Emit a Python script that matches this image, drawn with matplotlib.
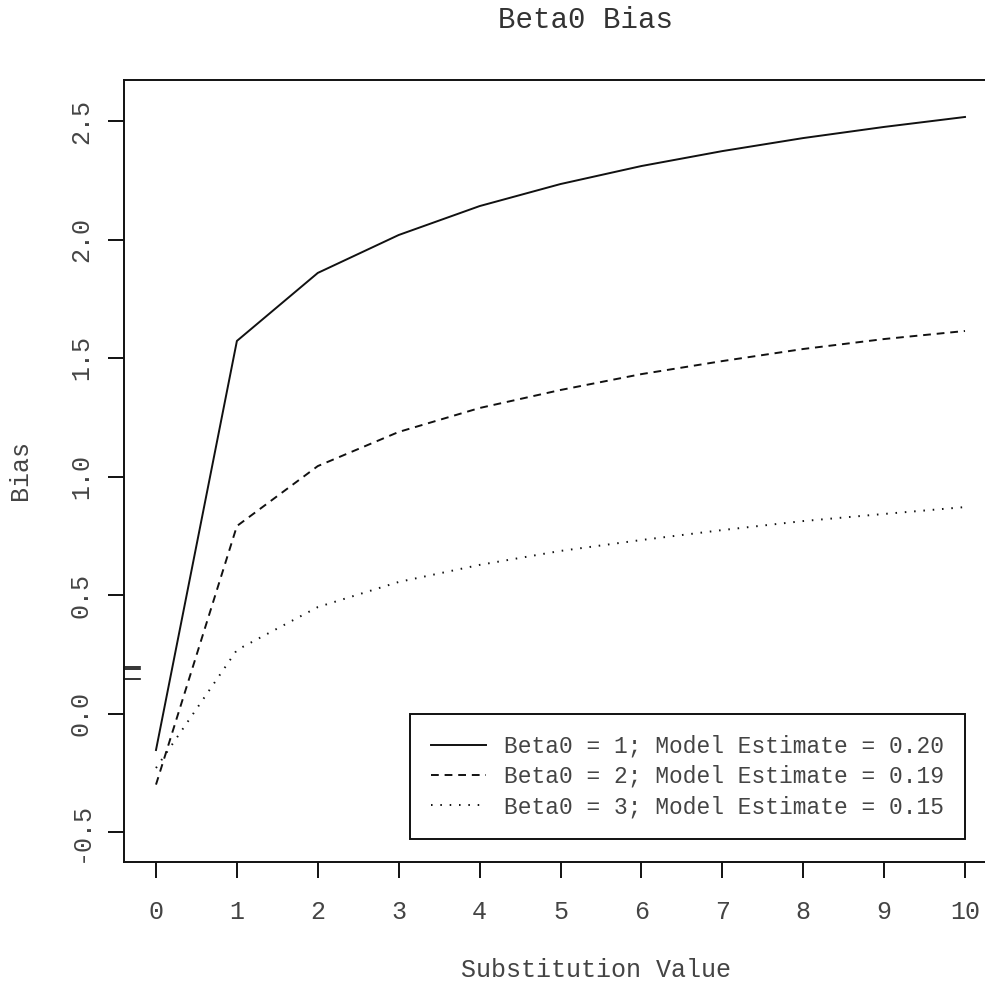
import numpy as np
import matplotlib
matplotlib.use("Agg")
import matplotlib.pyplot as plt
from matplotlib.ticker import FixedLocator
import matplotlib.transforms as mtransforms

# substitution values and bias per beta0
subst = [0, 1, 2, 3, 4, 5, 6, 7, 8, 9, 10]
bias_b1 = [-0.154, 1.572, 1.859, 2.019, 2.141, 2.234, 2.310, 2.373, 2.428, 2.475, 2.517]
bias_b2 = [-0.300, 0.791, 1.044, 1.188, 1.289, 1.365, 1.432, 1.487, 1.538, 1.580, 1.614]
bias_b3 = [-0.230, 0.268, 0.449, 0.555, 0.627, 0.686, 0.732, 0.774, 0.812, 0.842, 0.871]
model_est = [0.197, 0.187, 0.147]
labels = ["Beta0 = 1; Model Estimate = 0.20",
          "Beta0 = 2; Model Estimate = 0.19",
          "Beta0 = 3; Model Estimate = 0.15"]
xticks = [0, 1, 2, 3, 4, 5, 6, 7, 8, 9, 10]
yticks = [-0.5, 0.0, 0.5, 1.0, 1.5, 2.0, 2.5]

plt.rcParams['font.family'] = ['Liberation Mono', 'DejaVu Sans Mono']

W, H = 985, 982
fig = plt.figure(figsize=(W / 100, H / 100), dpi=100)

# plot region in pixels (right edge runs past the image)
left, right, top, bottom = 124, 1048, 80, 862
ax = fig.add_axes([left / W, 1 - bottom / H, (right - left) / W, (bottom - top) / H])

# x: 0 at px 156, 80.9 px per unit; y: 0 at px 713.5, 237 px per unit
ax.set_xlim((left - 156) / 80.9, (right - 156) / 80.9)
ax.set_ylim(-(bottom - 713.5) / 237, (713.5 - top) / 237)

lw = 1.4
ax.plot(subst, bias_b1, color='#111111', lw=lw, linestyle='-', label=labels[0])
ax.plot(subst, bias_b2, color='#111111', lw=lw, linestyle=(0, (4, 3)), label=labels[1])
ax.plot(subst, bias_b3, color='#111111', lw=lw, linestyle=(0, (0.8, 4)), label=labels[2])

# short marks for the model estimates on the left edge
trans = mtransforms.blended_transform_factory(ax.transAxes, ax.transData)
for v in model_est:
    ax.plot([0, 16 / (right - left)], [v, v], color='#111111', lw=1.2,
            transform=trans, clip_on=False)

ax.xaxis.set_major_locator(FixedLocator(xticks))
ax.yaxis.set_major_locator(FixedLocator(yticks))
ax.set_xticklabels([str(t) for t in xticks])
ax.set_yticklabels([f"{t:.1f}" for t in yticks], rotation=90, va='center')
ax.tick_params(axis='both', direction='out', length=11.5, width=1.4,
               color='#111111', labelsize=18, labelcolor='#444444')
ax.tick_params(axis='x', pad=16)
ax.tick_params(axis='y', pad=11)

for s in ax.spines.values():
    s.set_linewidth(1.4)
    s.set_color('#111111')

fig.text(586 / W, 1 - 20 / H, "Beta0 Bias", ha='center', va='center',
         fontsize=21, color='#333333')
fig.text(596 / W, 1 - 970 / H, "Substitution Value", ha='center', va='center',
         fontsize=18, color='#444444')
fig.text(20 / W, 1 - 470 / H, "Bias", ha='center', va='center', rotation=90,
         fontsize=18, color='#444444')

leg = ax.legend(loc='upper left', bbox_to_anchor=(410 / W, 1 - 714 / H),
                bbox_transform=fig.transFigure, borderaxespad=0,
                fancybox=False, edgecolor='#111111', framealpha=1,
                fontsize=16.5, handlelength=2.4, handletextpad=0.8,
                borderpad=0.9, labelspacing=0.32, labelcolor='#444444')
leg.get_frame().set_linewidth(1.4)

fig.savefig("out.png", dpi=100)
